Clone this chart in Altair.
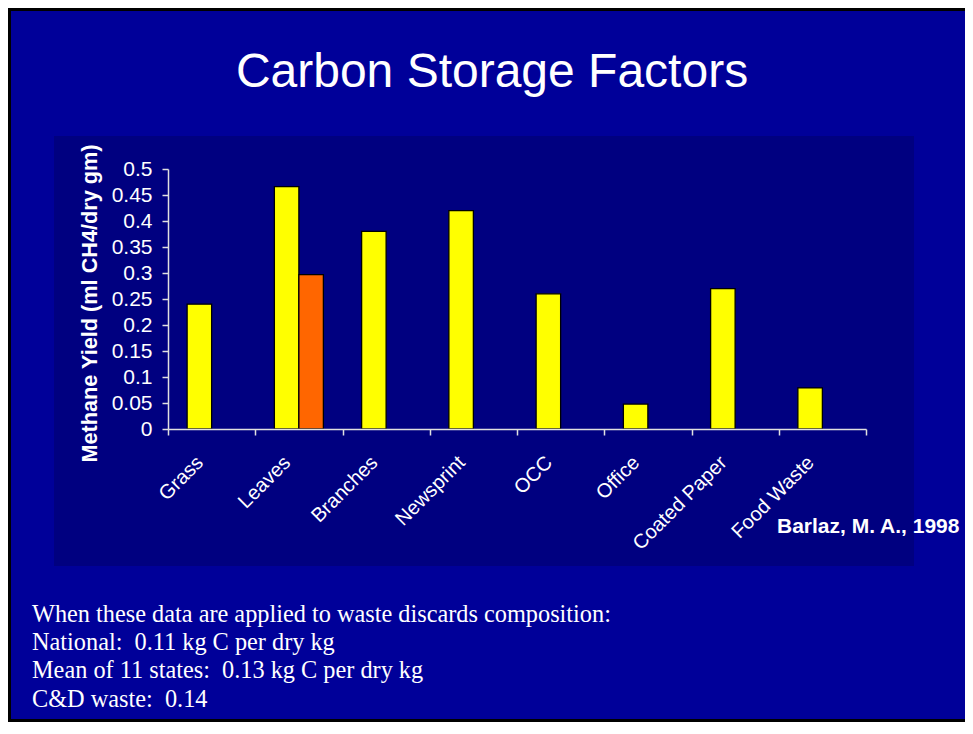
import altair as alt
import pandas as pd

# ---- data ----
categories = ["Grass", "Leaves", "Branches", "Newsprint", "OCC", "Office", "Coated Paper", "Food Waste"]
series_a = [0.24, 0.466, 0.38, 0.42, 0.26, 0.048, 0.27, 0.079]
series_b = [None, 0.297, None, None, None, None, None, None]
y_ticks = [0, 0.05, 0.1, 0.15, 0.2, 0.25, 0.3, 0.35, 0.4, 0.45, 0.5]

title_text = "Carbon Storage Factors"
y_title = "Methane Yield (ml CH4/dry gm)"
source_text = "Barlaz, M. A., 1998"
NB = "\u00a0"
note_lines = [
    "When these data are applied to waste discards composition:",
    "National:" + NB + " 0.11 kg C per dry kg",
    "Mean of 11 states:" + NB + " 0.13 kg C per dry kg",
    "C&D waste:" + NB + " 0.14",
]

rows = []
for c, a, b in zip(categories, series_a, series_b):
    if a is not None:
        rows.append({"cat": c, "series": "A", "value": a})
    if b is not None:
        rows.append({"cat": c, "series": "B", "value": b})
df = pd.DataFrame(rows)

one = pd.DataFrame({"k": [0]})

W, H = 698, 260
TOTAL_W, TOTAL_H = 957, 714
PAD_L, PAD_T = 160, 161

border = alt.Chart(one).mark_rect(fill="#000099", stroke="black", strokeWidth=3).encode(
    x=alt.value(-PAD_L + 1.5), x2=alt.value(TOTAL_W),
    y=alt.value(-PAD_T + 1.5), y2=alt.value(TOTAL_H - PAD_T - 1.5),
)

panel = alt.Chart(one).mark_rect(fill="#000080").encode(
    x=alt.value(-114), x2=alt.value(746), y=alt.value(-33), y2=alt.value(397)
)

bars = alt.Chart(df).mark_bar(stroke="black", strokeWidth=1.3).encode(
    x=alt.X("cat:N", sort=categories,
            scale=alt.Scale(domain=categories, paddingInner=0, paddingOuter=0),
            axis=alt.Axis(title=None, labelAngle=-45, labelAlign="right", labelBaseline="top",
                          labelFontSize=20, labelColor="white", labelFont="Liberation Sans",
                          domainColor="#E0E0E0", domainWidth=1.5, tickColor="#E0E0E0",
                          tickWidth=1.5, tickSize=6, tickBand="extent", labelPadding=17,
                          labelOffset=-19, zindex=1, grid=False)),
    xOffset=alt.XOffset("series:N", scale=alt.Scale(domain=["A", "B"], paddingInner=0, paddingOuter=0.78)),
    y=alt.Y("value:Q",
            scale=alt.Scale(domain=[0, 0.5], nice=False),
            axis=alt.Axis(title=y_title, values=y_ticks, format="~g",
                          labelFontSize=21, labelColor="white", labelFont="Liberation Sans",
                          labelPadding=10, tickSize=6, tickColor="#E0E0E0", tickWidth=1.5,
                          domainColor="#E0E0E0", domainWidth=1.5, grid=False, zindex=1,
                          titleFontSize=21.7, titleFontWeight="bold", titleColor="white",
                          titleFont="Liberation Sans", titleX=-79, titleY=134,
                          titleAngle=270, titleBaseline="middle", titleAlign="center")),
    color=alt.Color("series:N", scale=alt.Scale(domain=["A", "B"], range=["#FFFF00", "#FF6600"]),
                    legend=None),
)

title = alt.Chart(pd.DataFrame({"t": [title_text]})).mark_text(
    font="Liberation Sans", fontSize=48, color="white", align="center", baseline="alphabetic"
).encode(text="t:N", x=alt.value(324), y=alt.value(-82))

source = alt.Chart(pd.DataFrame({"t": [source_text]})).mark_text(
    font="Liberation Sans", fontSize=21, fontWeight="bold", color="white",
    align="left", baseline="alphabetic"
).encode(text="t:N", x=alt.value(609), y=alt.value(364))

notes = alt.Chart(pd.DataFrame({"t": ["\n".join(note_lines)]})).mark_text(
    font="Liberation Serif", fontSize=24.3, color="white", align="left",
    baseline="alphabetic", lineBreak="\n", lineHeight=28.2
).encode(text="t:N", x=alt.value(-136), y=alt.value(453))

chart = alt.layer(border, panel, bars, title, source, notes).properties(
    width=W, height=H,
    autosize=alt.AutoSizeParams(type="none"),
    padding={"left": PAD_L, "top": PAD_T, "right": TOTAL_W - PAD_L - W, "bottom": TOTAL_H - PAD_T - H},
).configure(background="#000099").configure_view(stroke=None)

chart.save("out.html", embed_options={"renderer": "svg", "actions": False})
